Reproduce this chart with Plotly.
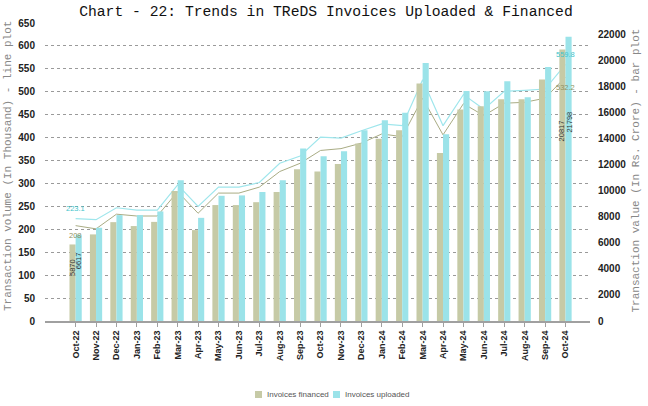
import plotly.graph_objects as go

months = ["Oct-22", "Nov-22", "Dec-22", "Jan-23", "Feb-23", "Mar-23", "Apr-23", "May-23",
          "Jun-23", "Jul-23", "Aug-23", "Sep-23", "Oct-23", "Nov-23", "Dec-23", "Jan-24",
          "Feb-24", "Mar-24", "Apr-24", "May-24", "Jun-24", "Jul-24", "Aug-24", "Sep-24", "Oct-24"]

# Bar values (Rs. Crore)
value_financed = [5870, 6640, 7580, 7280, 7600, 9960, 6970, 8890, 8890, 9110, 9900, 11640, 11470,
                  12030, 13610, 13970, 14630, 18210, 12890, 16220, 16470, 17000, 17000, 18510, 20817]
value_uploaded = [6617, 7150, 8120, 8120, 8400, 10800, 7910, 9600, 9630, 9900, 10800, 13230, 12640,
                  13020, 14630, 15400, 15960, 19790, 14320, 17640, 17620, 18380, 17160, 19480, 21798]

# Line values (thousand invoices)
vol_financed = [208, 201, 233, 229, 229, 282, 235, 279, 279, 292, 326, 344, 372,
                376, 388, 408, 402, 486, 406, 474, 448, 475, 477, 486, 532.2]
vol_uploaded = [223.1, 221, 247, 242, 242, 297, 250, 292, 292, 302, 344, 360, 401,
                399, 415, 430, 426, 526, 426, 494, 462, 501, 503, 506, 559.8]

legend_names = ["Invoices financed", "Invoices uploaded"]

c_fin = "#c6caa6"
c_upl = "#9be3e9"
c_fin_line = "#a9ac84"
c_upl_line = "#9fe6ec"

fig = go.Figure()
fig.add_trace(go.Bar(x=months, y=value_financed, name=legend_names[0], yaxis="y2",
                     marker=dict(color=c_fin, line=dict(width=0)), width=0.3, offset=-0.3,
                     showlegend=False))
fig.add_trace(go.Bar(x=months, y=value_uploaded, name=legend_names[1], yaxis="y2",
                     marker=dict(color=c_upl, line=dict(width=0)), width=0.3, offset=0.0,
                     showlegend=False))
fig.add_trace(go.Scatter(x=months, y=vol_financed, mode="lines", yaxis="y",
                         line=dict(color=c_fin_line, width=1), showlegend=False))
fig.add_trace(go.Scatter(x=months, y=vol_uploaded, mode="lines", yaxis="y",
                         line=dict(color=c_upl_line, width=1.2), showlegend=False))

ann = []
# bar value labels (rotated, inside bars)
for i in [0, len(months) - 1]:
    for vals, off in [(value_financed, -0.15), (value_uploaded, 0.15)]:
        ann.append(dict(x=i + off, y=vals[i] * 0.7, xref="x", yref="y2", text=str(vals[i]),
                        showarrow=False, textangle=-90,
                        font=dict(family="Liberation Sans", size=7.5, color="#333")))
# line value labels
for i in [0, len(months) - 1]:
    ann.append(dict(x=i, y=vol_uploaded[i], xref="x", yref="y", text=str(vol_uploaded[i]),
                    showarrow=False, yshift=10,
                    font=dict(family="Liberation Sans", size=7.5, color="#3fc4cc")))
    ann.append(dict(x=i, y=vol_financed[i], xref="x", yref="y", text=str(vol_financed[i]),
                    showarrow=False, yshift=-10,
                    font=dict(family="Liberation Sans", size=7.5, color="#8f9262")))
# axis titles
ann.append(dict(x=-0.0679, xref="paper", xanchor="center", y=0.52, yref="paper",
                yanchor="middle",
                text="Transaction volume (In Thousand) - line plot", showarrow=False,
                textangle=-90, font=dict(family="Liberation Mono", size=11, color="#888")))
ann.append(dict(x=1.0844, xref="paper", xanchor="center", y=0.505, yref="paper",
                yanchor="middle",
                text="Transaction value (In Rs. Crore) - bar plot", showarrow=False,
                textangle=-90, font=dict(family="Liberation Mono", size=11, color="#888")))

# manual legend (small swatches + labels)
shapes = []
for nm, col, sx in [(legend_names[0], c_fin, 0.3853), (legend_names[1], c_upl, 0.5284)]:
    shapes.append(dict(type="rect", xref="paper", yref="paper", x0=sx, x1=sx + 0.0129,
                       y0=-0.2584, y1=-0.2349, fillcolor=col, line=dict(width=0)))
    ann.append(dict(x=sx + 0.0184, xref="paper", xanchor="left", y=-0.2466, yref="paper",
                    yanchor="middle", text=nm, showarrow=False,
                    font=dict(family="Liberation Sans", size=8, color="#555")))

fig.update_layout(
    width=648, height=406,
    margin=dict(l=45, r=58, t=23, b=85),
    paper_bgcolor="white", plot_bgcolor="white",
    title=dict(text="Chart - 22: Trends in TReDS Invoices Uploaded & Financed",
               x=0.503, xanchor="center", y=0.973, yanchor="middle", yref="container",
               font=dict(family="Liberation Mono", size=14.7, color="#111")),
    barmode="overlay",
    showlegend=False,
    xaxis=dict(type="category", range=[-1.5, 25.2], tickangle=-90, automargin=False,
               showline=True, linecolor="#a0a0a0", linewidth=2,
               ticks="outside", ticklen=4, tickcolor="#a0a0a0",
               tickfont=dict(family="Liberation Sans", size=9, color="#222", weight="bold"),
               showgrid=False),
    yaxis=dict(range=[0, 650], dtick=50, showgrid=True, gridcolor="#9a9a9a", griddash="dot",
               gridwidth=1, zeroline=False, showline=False, automargin=False,
               ticks="outside", ticklen=7, tickcolor="rgba(0,0,0,0)",
               tickfont=dict(family="Liberation Sans", size=10, color="#222", weight="bold")),
    yaxis2=dict(range=[0, 22850], dtick=2000, tickformat="d", overlaying="y", side="right",
                showgrid=False, zeroline=False, showline=False, automargin=False,
                ticks="outside", ticklen=5, tickcolor="rgba(0,0,0,0)",
                tickfont=dict(family="Liberation Sans", size=10, color="#222", weight="bold")),
    shapes=shapes,
    annotations=ann,
)

fig.write_html("out.html", config={"displayModeBar": False},
               post_script="document.body.style.margin='0px';")
